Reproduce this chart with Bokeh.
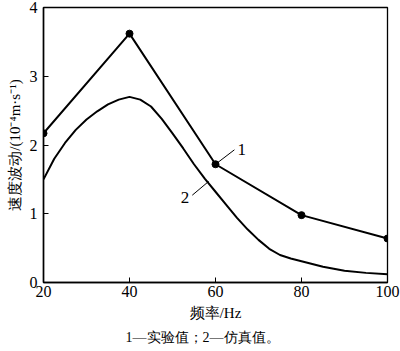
from bokeh.plotting import figure
from bokeh.models import Range1d, FixedTicker, Title, Label
from bokeh.embed import file_html
from bokeh.resources import INLINE

# Data
freq_exp = [20, 40, 60, 80, 100]
vel_exp = [2.17, 3.62, 1.72, 0.98, 0.64]

freq_sim = [20, 22.5, 25, 27.5, 30, 32.5, 35, 37.5, 40, 42.5, 45, 47.5, 50, 52.5,
            55, 57.5, 60, 62.5, 65, 67.5, 70, 72.5, 75, 77.5, 80, 85, 90, 95, 100]
vel_sim = [1.50, 1.80, 2.03, 2.22, 2.37, 2.49, 2.59, 2.66, 2.70, 2.66, 2.56, 2.38, 2.17, 1.95,
           1.72, 1.51, 1.32, 1.13, 0.94, 0.77, 0.62, 0.49, 0.40, 0.35, 0.31, 0.23, 0.17, 0.14, 0.12]

x_ticks = [20, 40, 60, 80, 100]
y_ticks = [0, 1, 2, 3, 4]

curve_labels = ["1", "2"]
leader_x0 = [60.0, 54.6]
leader_y0 = [1.72, 1.27]
leader_x1 = [64.4, 58.4]
leader_y1 = [1.93, 1.47]
label_x = [65.1, 53.9]
label_y = [1.93, 1.235]

SERIF = "Liberation Serif"

p = figure(width=400, height=351, output_backend="svg", toolbar_location=None,
           x_range=Range1d(20, 100), y_range=Range1d(0, 4),
           min_border_left=43, min_border_right=13, min_border_top=7, min_border_bottom=69)

p.background_fill_color = "white"
p.border_fill_color = "white"
p.grid.visible = False
p.outline_line_color = "black"
p.outline_line_width = 1.3

for ax in (p.xaxis[0], p.yaxis[0]):
    ax.axis_line_width = 1.5
    ax.axis_line_color = "black"
    ax.major_tick_in = 5
    ax.major_tick_out = 0
    ax.minor_tick_in = 0
    ax.minor_tick_out = 0
    ax.major_tick_line_color = "black"
    ax.major_tick_line_width = 1
    ax.major_label_text_font = SERIF
    ax.major_label_text_font_size = "16px"
    ax.major_label_text_color = "black"
    ax.axis_label_text_font_style = "normal"
    ax.axis_label_text_color = "black"

p.xaxis.ticker = FixedTicker(ticks=x_ticks)
p.yaxis.ticker = FixedTicker(ticks=y_ticks)
p.xaxis.major_label_standoff = 3
p.yaxis.major_label_standoff = 6

p.xaxis.axis_label = "频率/Hz"
p.xaxis.axis_label_text_font = SERIF
p.xaxis.axis_label_text_font_size = "15px"
p.xaxis.axis_label_standoff = 5

p.yaxis.axis_label = "速度波动/(10⁻⁴m·s⁻¹)"
p.yaxis.axis_label_text_font = SERIF
p.yaxis.axis_label_text_font_size = "15px"
p.yaxis.axis_label_standoff = 4

# Curves
p.line(freq_sim, vel_sim, line_color="black", line_width=2)
p.line(freq_exp, vel_exp, line_color="black", line_width=2)
p.scatter(freq_exp, vel_exp, size=7, fill_color="black", line_color="black")

# Leader lines and curve labels
p.segment(x0=leader_x0, y0=leader_y0, x1=leader_x1, y1=leader_y1,
          line_color="black", line_width=1)
for t, lx, ly in zip(curve_labels, label_x, label_y):
    p.add_layout(Label(x=lx, y=ly, text=t, text_font=SERIF, text_font_size="17px",
                       text_color="black",
                       text_align="left" if t == "1" else "right",
                       text_baseline="middle"))

# Caption
cap = Title(text="1—实验值；2—仿真值。", align="left", offset=82, text_font=SERIF,
            text_font_size="14px", text_font_style="normal", text_color="black",
            standoff=8)
p.add_layout(cap, "below")

open("out.html", "w").write(file_html(p, INLINE))
